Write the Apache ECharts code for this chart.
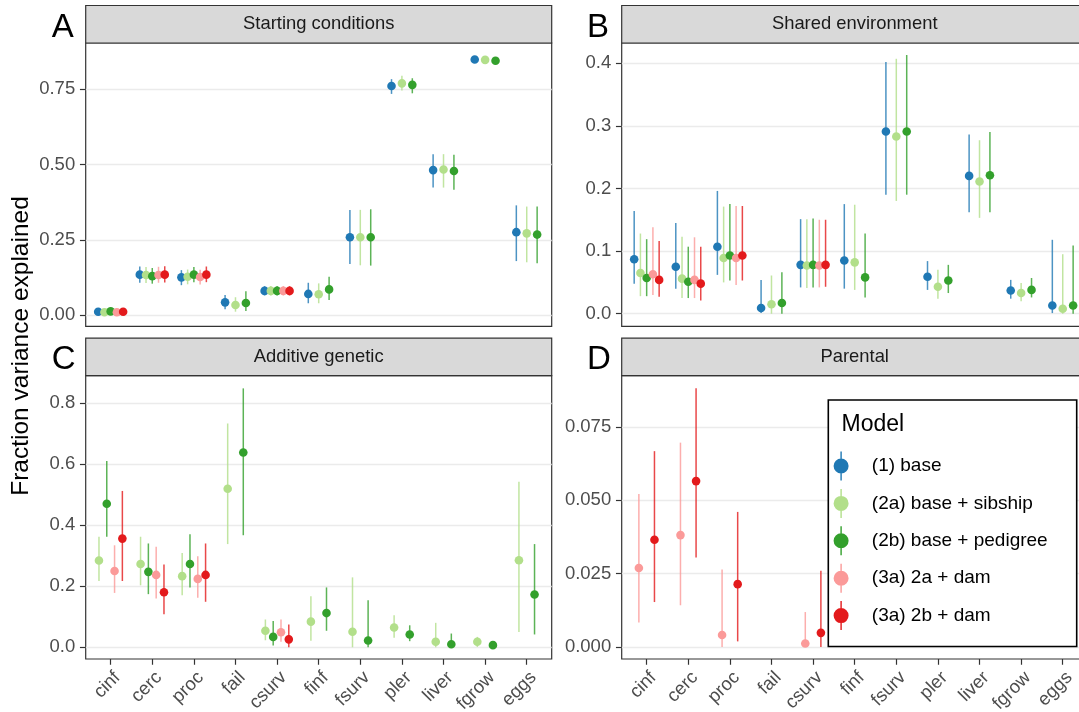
<!DOCTYPE html>
<html><head><meta charset="utf-8">
<script src="https://cdn.jsdelivr.net/npm/echarts@6/dist/echarts.min.js"></script>
<style>html,body{margin:0;padding:0;background:#fff}#c{width:1079px;height:712px}</style>
</head><body><div id="c"></div>
<script>
// ---------- data ----------
const categories = ['cinf','cerc','proc','fail','csurv','finf','fsurv','pler','liver','fgrow','eggs'];
const models = ['(1) base','(2a) base + sibship','(2b) base + pedigree','(3a) 2a + dam','(3a) 2b + dam'];
const modelColors = ['#1F78B4','#B2DF8A','#33A02C','#FB9A99','#E31A1C'];
const panelTitles = ['Starting conditions','Shared environment','Additive genetic','Parental'];
const panelLetters = ['A','B','C','D'];
const yTitle = 'Fraction variance explained';
const legendTitle = 'Model';

// each entry: [estimate, lower, upper] per category (null = not estimated)
const startBase   = [[0.012,0.004,0.021],[0.135,0.108,0.162],[0.126,0.100,0.150],[0.043,0.020,0.067],[0.081,0.066,0.097],[0.071,0.040,0.108],[0.259,0.170,0.350],[0.761,0.735,0.784],[0.482,0.424,0.535],[0.849,0.840,0.857],[0.276,0.180,0.365]];
const startSib    = [[0.010,0.003,0.019],[0.134,0.107,0.160],[0.128,0.103,0.152],[0.034,0.012,0.060],[0.081,0.066,0.097],[0.070,0.040,0.106],[0.259,0.166,0.350],[0.770,0.746,0.795],[0.484,0.424,0.535],[0.848,0.840,0.856],[0.272,0.176,0.361]];
const startPed    = [[0.013,0.005,0.021],[0.130,0.105,0.157],[0.135,0.110,0.160],[0.041,0.014,0.080],[0.081,0.066,0.097],[0.086,0.051,0.128],[0.259,0.165,0.352],[0.765,0.737,0.787],[0.479,0.417,0.533],[0.845,0.836,0.853],[0.268,0.173,0.361]];
const startSibDam = [[0.010,0.003,0.019],[0.134,0.108,0.161],[0.127,0.102,0.151],null,[0.081,0.066,0.097],null,null,null,null,null,null];
const startPedDam = [[0.012,0.004,0.021],[0.135,0.109,0.163],[0.135,0.110,0.162],null,[0.081,0.066,0.097],null,null,null,null,null,null];

const sharedBase   = [[0.087,0.048,0.164],[0.075,0.040,0.145],[0.107,0.062,0.196],[0.009,0.001,0.054],[0.078,0.042,0.151],[0.085,0.040,0.175],[0.291,0.190,0.402],[0.059,0.038,0.084],[0.220,0.162,0.286],[0.037,0.024,0.054],[0.013,0.001,0.118]];
const sharedSib    = [[0.065,0.028,0.128],[0.056,0.025,0.123],[0.089,0.050,0.171],[0.015,0.000,0.061],[0.077,0.041,0.151],[0.082,0.038,0.174],[0.283,0.180,0.407],[0.043,0.024,0.070],[0.211,0.153,0.277],[0.033,0.020,0.049],[0.008,0.000,0.095]];
const sharedPed    = [[0.057,0.028,0.119],[0.051,0.025,0.107],[0.093,0.053,0.175],[0.017,0.000,0.066],[0.078,0.042,0.152],[0.058,0.026,0.128],[0.291,0.190,0.413],[0.053,0.033,0.078],[0.221,0.162,0.290],[0.038,0.026,0.057],[0.013,0.000,0.109]];
const sharedSibDam = [[0.063,0.030,0.138],[0.054,0.025,0.122],[0.089,0.046,0.172],null,[0.077,0.042,0.150],null,null,null,null,null,null];
const sharedPedDam = [[0.054,0.027,0.116],[0.048,0.021,0.107],[0.093,0.053,0.172],null,[0.078,0.043,0.150],null,null,null,null,null,null];

const addBase   = [null,null,null,null,null,null,null,null,null,null,null];
const addSib    = [[0.284,0.217,0.362],[0.273,0.203,0.362],[0.233,0.170,0.309],[0.519,0.338,0.733],[0.054,0.023,0.091],[0.084,0.021,0.167],[0.051,0.000,0.229],[0.065,0.031,0.105],[0.018,0.000,0.080],[0.018,0.001,0.034],[0.285,0.050,0.542]];
const addPed    = [[0.470,0.362,0.610],[0.247,0.174,0.340],[0.273,0.196,0.370],[0.638,0.367,0.848],[0.034,0.006,0.086],[0.112,0.054,0.196],[0.022,0.000,0.154],[0.042,0.020,0.072],[0.010,0.000,0.045],[0.007,0.002,0.012],[0.173,0.042,0.338]];
const addSibDam = [[0.250,0.178,0.334],[0.237,0.160,0.329],[0.224,0.162,0.298],null,[0.049,0.018,0.091],null,null,null,null,null,null];
const addPedDam = [[0.356,0.217,0.512],[0.180,0.108,0.271],[0.237,0.149,0.340],null,[0.026,0.000,0.075],null,null,null,null,null,null];

const parBase   = [null,null,null,null,null,null,null,null,null,null,null];
const parSib    = [null,null,null,null,null,null,null,null,null,null,null];
const parPed    = [null,null,null,null,null,null,null,null,null,null,null];
const parSibDam = [[0.0269,0.0083,0.0521],[0.0381,0.0142,0.0696],[0.0041,0.0,0.0264],null,[0.0012,0.0,0.0119],null,null,null,null,null,null];
const parPedDam = [[0.0365,0.0153,0.0667],[0.0565,0.0305,0.0881],[0.0214,0.0019,0.0460],null,[0.0048,0.0,0.0260],null,null,null,null,null,null];

const yTicksA = [0, 0.25, 0.5, 0.75];
const yTicksB = [0, 0.1, 0.2, 0.3, 0.4];
const yTicksC = [0, 0.2, 0.4, 0.6, 0.8];
const yTicksD = [0, 0.025, 0.05, 0.075];
const yDecimals = [2, 1, 1, 3];
const yRanges = [[-0.0365, 0.904], [-0.0201, 0.4322], [-0.0384, 0.8895], [-0.0041, 0.0924]];

// ---------- assembly ----------
const panelData = [
  [startBase, startSib, startPed, startSibDam, startPedDam],
  [sharedBase, sharedSib, sharedPed, sharedSibDam, sharedPedDam],
  [addBase, addSib, addPed, addSibDam, addPedDam],
  [parBase, parSib, parPed, parSibDam, parPedDam]
];
const yTicks = [yTicksA, yTicksB, yTicksC, yTicksD];

const FONT = "'Liberation Sans', Arial, Helvetica, sans-serif";
const PANEL_LEFT = [85.7, 621.7, 85.7, 621.7];
const PANEL_TOP = [43, 43, 375.7, 375.7];
const PANEL_W = 466, PANEL_H = 283.3, STRIP_H = 37.5;
const DODGE = 0.75;
const X_MIN = -0.6, X_MAX = categories.length - 0.4;

const grids = [], xAxes = [], yAxes = [], series = [], graphics = [];

for (let p = 0; p < 4; p++) {
  const bottomRow = p >= 2;
  grids.push({left: PANEL_LEFT[p], top: PANEL_TOP[p], width: PANEL_W, height: PANEL_H,
    show: true, borderColor: '#333333', borderWidth: 1.2, backgroundColor: '#ffffff',
    containLabel: false, outerBoundsMode: 'none'});
  // category positions, padded with the (unlabelled) axis ends so that min/max-label logic hides only those
  const catIdx = [X_MIN].concat(categories.map((_, i) => i), [X_MAX]);
  xAxes.push({type: 'value', gridIndex: p, position: 'bottom', min: X_MIN, max: X_MAX,
    axisLine: {show: false, onZero: false}, splitLine: {show: false},
    axisTick: {show: bottomRow, length: 5.75, lineStyle: {color: '#333333', width: 1.2}, customValues: catIdx},
    axisLabel: {show: bottomRow, customValues: catIdx,
      formatter: v => (Math.abs(v - Math.round(v)) < 1e-6 ? (categories[Math.round(v)] || '') : ''),
      showMinLabel: false, showMaxLabel: false, hideOverlap: false,
      rotate: 45, align: 'right', verticalAlign: 'top', margin: 9,
      fontSize: 18.5, color: '#4D4D4D', fontFamily: FONT}});
  const dec = yDecimals[p];
  yAxes.push({type: 'value', gridIndex: p, position: 'left', min: yRanges[p][0], max: yRanges[p][1],
    axisLine: {show: false, onZero: false},
    axisTick: {show: true, length: 5.75, lineStyle: {color: '#333333', width: 1.2}, customValues: yTicks[p]},
    axisLabel: {customValues: yTicks[p], formatter: v => Number(v).toFixed(dec), fontSize: 18.5,
      showMinLabel: true, showMaxLabel: true,
      color: '#4D4D4D', fontFamily: FONT, margin: 10.5},
    splitLine: {show: true, lineStyle: {color: '#EBEBEB', width: 1.4}}});

  // dodge positions (like position_dodge): count models present at each category
  const present = categories.map((_, i) => panelData[p].map(arr => arr[i] != null));
  for (let m = 0; m < models.length; m++) {
    const arr = panelData[p][m];
    const data = [];
    arr.forEach((v, i) => {
      if (v == null) return;
      const n = present[i].filter(Boolean).length;
      const rank = present[i].slice(0, m).filter(Boolean).length;
      const off = (rank - (n - 1) / 2) * DODGE / n;
      data.push([i, v[0], v[1], v[2], off]);
    });
    if (!data.length) continue;
    const color = modelColors[m];
    series.push({type: 'custom', name: models[m], xAxisIndex: p, yAxisIndex: p,
      itemStyle: {color: color}, data: data, encode: {x: 0, y: [1, 2, 3]},
      renderItem: function (params, api) {
        const x = api.value(0) + api.value(4);
        const pm = api.coord([x, api.value(1)]);
        const pl = api.coord([x, api.value(2)]);
        const ph = api.coord([x, api.value(3)]);
        return {type: 'group', children: [
          {type: 'line', shape: {x1: pm[0], y1: pl[1], x2: pm[0], y2: ph[1]},
            style: {stroke: color, lineWidth: 1.5, opacity: 0.8}},
          {type: 'circle', shape: {cx: pm[0], cy: pm[1], r: 4.3}, style: {fill: color}}
        ]};
      }});
  }

  // strip
  graphics.push({type: 'rect', z: 20,
    shape: {x: PANEL_LEFT[p], y: PANEL_TOP[p] - STRIP_H, width: PANEL_W, height: STRIP_H},
    style: {fill: '#D9D9D9', stroke: '#333333', lineWidth: 1.2}});
  graphics.push({type: 'text', z: 21, x: PANEL_LEFT[p] + PANEL_W / 2, y: PANEL_TOP[p] - STRIP_H / 2,
    style: {text: panelTitles[p], fontSize: 18.4, fill: '#1A1A1A', fontFamily: FONT, align: 'center', verticalAlign: 'middle'}});
  // panel letter
  graphics.push({type: 'text', z: 21, x: p % 2 === 0 ? 51.7 : 587, y: p < 2 ? 28 : 360,
    style: {text: panelLetters[p], fontSize: 33, fill: '#000000', fontFamily: FONT, align: 'left', verticalAlign: 'middle'}});
}

// y title
graphics.push({type: 'text', z: 21, x: 21, y: 346, rotation: Math.PI / 2,
  style: {text: yTitle, fontSize: 24.5, fill: '#000000', fontFamily: FONT, align: 'center', verticalAlign: 'middle'}});
// legend box + title
graphics.push({type: 'rect', z: 50, shape: {x: 828.3, y: 400, width: 248.4, height: 246.5},
  style: {fill: '#ffffff', stroke: '#000000', lineWidth: 1.6}});
graphics.push({type: 'text', z: 51, x: 841.5, y: 424.5,
  style: {text: legendTitle, fontSize: 23, fill: '#000000', fontFamily: FONT, align: 'left', verticalAlign: 'middle'}});

const ICON = 'path://M6.8,0H8.2V29H6.8Z M0,14.5A7.5,7.5 0 1,1 15,14.5A7.5,7.5 0 1,1 0,14.5Z';

const chart = echarts.init(document.getElementById('c'), null, {renderer: 'canvas'});
chart.setOption({
  animation: false,
  backgroundColor: '#ffffff',
  color: modelColors,
  grid: grids, xAxis: xAxes, yAxis: yAxes, series: series,
  legend: {orient: 'vertical', left: 833.6, top: 451.5, itemWidth: 51.4, itemHeight: 29, itemGap: 8.4,
    padding: 0, z: 60, selectedMode: false,
    textStyle: {fontSize: 19, color: '#000000', fontFamily: FONT},
    data: models.map(n => ({name: n, icon: ICON}))},
  graphic: {elements: graphics}
});
</script></body></html>
